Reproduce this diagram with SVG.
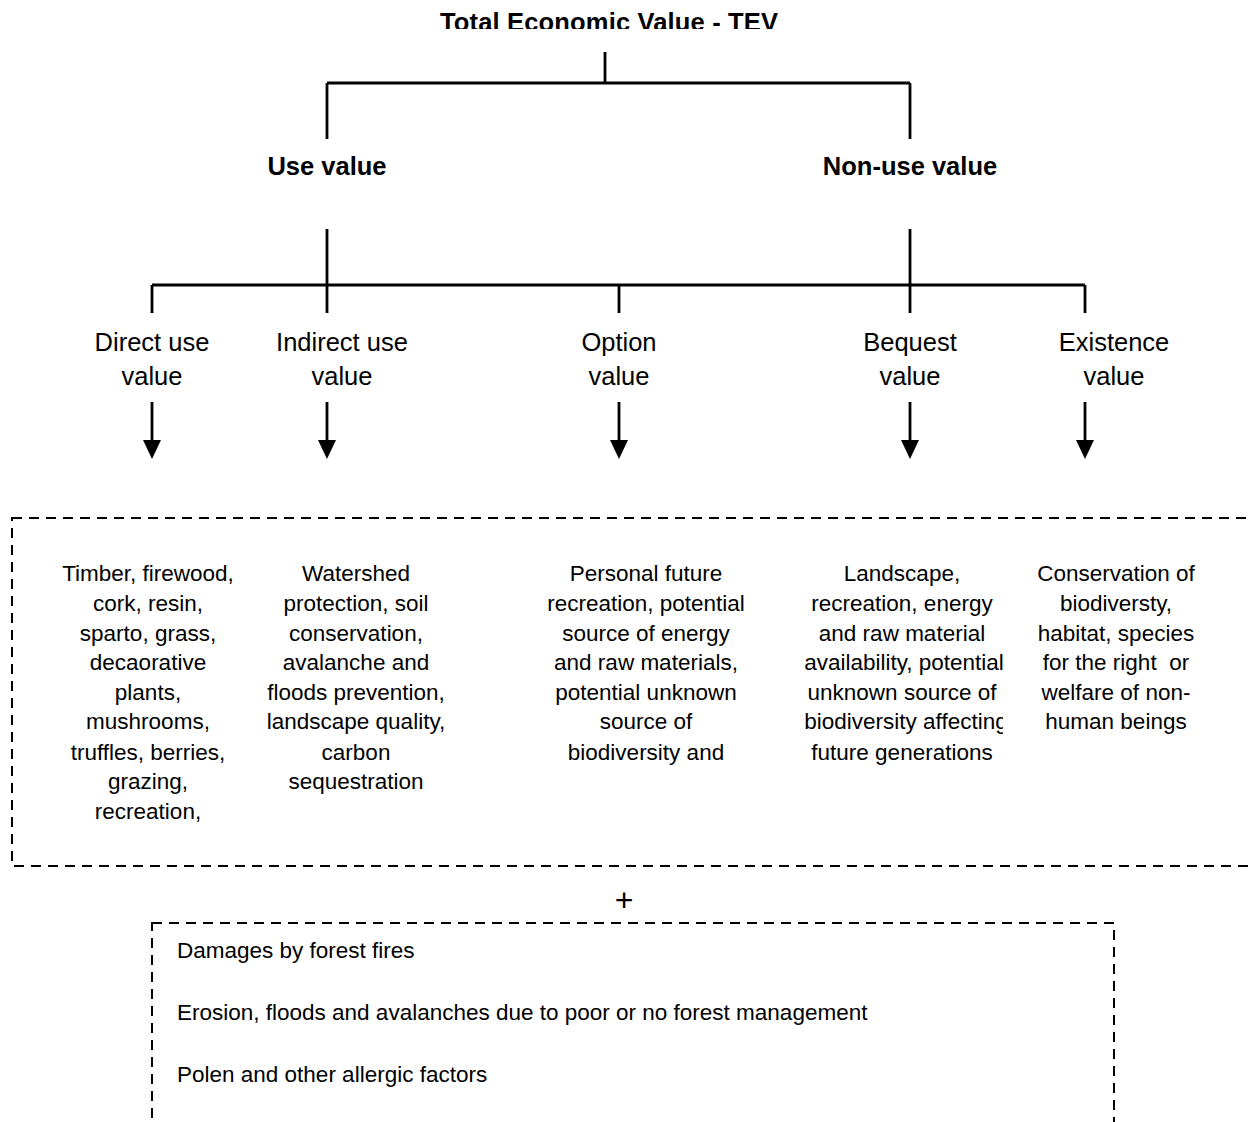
<svg xmlns="http://www.w3.org/2000/svg" width="1249" height="1122" viewBox="0 0 1249 1122">
<style>
text{font-family:"Liberation Sans",Arial,sans-serif;fill:#000}
.t{font-size:25.5px;font-weight:bold;text-anchor:middle}
.l{font-size:25.5px;text-anchor:middle}
.b{font-size:22.5px;text-anchor:middle}
.d{font-size:22.5px}
.ln{stroke:#000;stroke-width:2.8;fill:none}
.dash{stroke:#000;stroke-width:2;fill:none;stroke-dasharray:10 7}
</style>
<defs>
<clipPath id="cTitle"><rect x="0" y="0" width="1249" height="29"/></clipPath>
<clipPath id="cCol4"><rect x="700" y="540" width="303" height="250"/></clipPath>
</defs>
<g id="title"><text class="t" x="609" y="31" clip-path="url(#cTitle)" textLength="338">Total Economic Value - TEV</text></g>
<g id="use"><text class="t" x="327" y="175">Use value</text></g>
<g id="nonuse"><text class="t" x="910" y="175">Non-use value</text></g>
<g id="direct"><text class="l" x="152" y="351">Direct use</text><text class="l" x="152" y="385">value</text></g>
<g id="indirect"><text class="l" x="342" y="351">Indirect use</text><text class="l" x="342" y="385">value</text></g>
<g id="option"><text class="l" x="619" y="351">Option</text><text class="l" x="619" y="385">value</text></g>
<g id="bequest"><text class="l" x="910" y="351">Bequest</text><text class="l" x="910" y="385">value</text></g>
<g id="existence"><text class="l" x="1114" y="351">Existence</text><text class="l" x="1114" y="385">value</text></g>
<g id="connectors">
<path class="ln" d="M605 52V83M327 83H910M327 83V139M910 83V139M327 229V285M910 229V285M152 285H1085M152 285V313M327 285V313M619 285V313M910 285V313M1085 285V313"/>
<path class="ln" d="M152 402V442M327 402V442M619 402V442M910 402V442M1085 402V442"/>
<polygon points="143,440 161,440 152,459"/>
<polygon points="318,440 336,440 327,459"/>
<polygon points="610,440 628,440 619,459"/>
<polygon points="901,440 919,440 910,459"/>
<polygon points="1076,440 1094,440 1085,459"/>
</g>
<g id="valuesBox">
<rect class="dash" x="12" y="518" width="1260" height="348"/>
<text class="b" x="148" y="581">Timber, firewood,</text>
<text class="b" x="148" y="611">cork, resin,</text>
<text class="b" x="148" y="641">sparto, grass,</text>
<text class="b" x="148" y="670">decaorative</text>
<text class="b" x="148" y="700">plants,</text>
<text class="b" x="148" y="729">mushrooms,</text>
<text class="b" x="148" y="760">truffles, berries,</text>
<text class="b" x="148" y="789">grazing,</text>
<text class="b" x="148" y="819">recreation,</text>
<text class="b" x="356" y="581">Watershed</text>
<text class="b" x="356" y="611">protection, soil</text>
<text class="b" x="356" y="641">conservation,</text>
<text class="b" x="356" y="670">avalanche and</text>
<text class="b" x="356" y="700">floods prevention,</text>
<text class="b" x="356" y="729">landscape quality,</text>
<text class="b" x="356" y="760">carbon</text>
<text class="b" x="356" y="789">sequestration</text>
<text class="b" x="646" y="581">Personal future</text>
<text class="b" x="646" y="611">recreation, potential</text>
<text class="b" x="646" y="641">source of energy</text>
<text class="b" x="646" y="670">and raw materials,</text>
<text class="b" x="646" y="700">potential unknown</text>
<text class="b" x="646" y="729">source of</text>
<text class="b" x="646" y="760">biodiversity and</text>
<g clip-path="url(#cCol4)">
<text class="b" x="902" y="581">Landscape,</text>
<text class="b" x="902" y="611">recreation, energy</text>
<text class="b" x="902" y="641">and raw material</text>
<text class="b" x="904" y="670">availability, potential</text>
<text class="b" x="902" y="700">unknown source of</text>
<text class="b" x="906" y="729">biodiversity affecting</text>
<text class="b" x="902" y="760">future generations</text>
</g>
<text class="b" x="1116" y="581">Conservation of</text>
<text class="b" x="1116" y="611">biodiversty,</text>
<text class="b" x="1116" y="641">habitat, species</text>
<text class="b" x="1116" y="670" xml:space="preserve">for the right  or</text>
<text class="b" x="1116" y="700">welfare of non-</text>
<text class="b" x="1116" y="729">human beings</text>
</g>
<g id="plus"><text class="l" x="624" y="911" style="font-size:32px">+</text></g>
<g id="costsBox">
<rect class="dash" x="152" y="923" width="962" height="300"/>
<text class="d" x="177" y="958">Damages by forest fires</text>
<text class="d" x="177" y="1020">Erosion, floods and avalanches due to poor or no forest management</text>
<text class="d" x="177" y="1082">Polen and other allergic factors</text>
</g>
</svg>
